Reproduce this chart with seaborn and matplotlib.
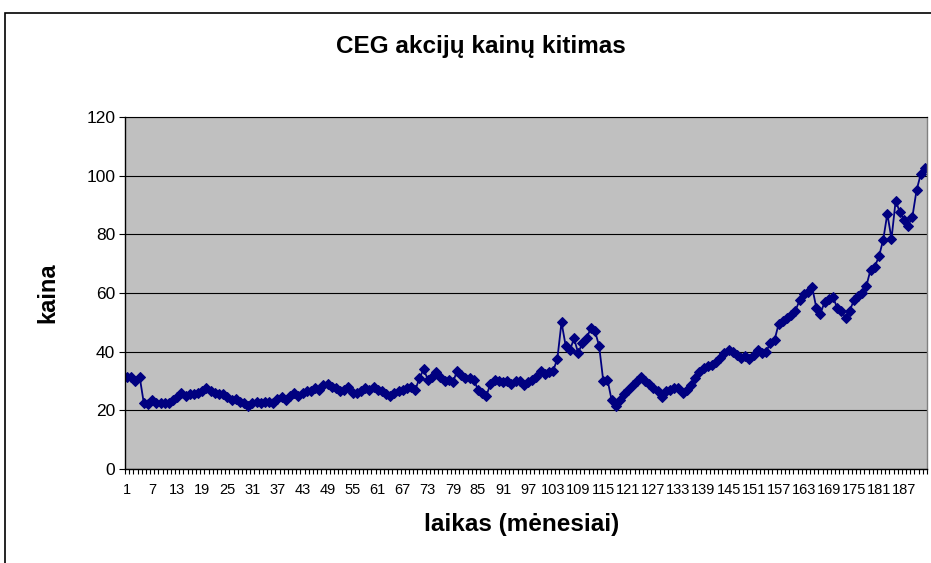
import numpy as np
import pandas as pd
import seaborn as sns
import matplotlib
matplotlib.use('Agg')
import matplotlib.pyplot as plt
from matplotlib.patches import Rectangle

# ===============================
# Dados
# ===============================
prices = [
    31.5, 31.5, 30, 31.5, 22.5, 22, 23.5, 22.5, 22.5, 22.5,      # 1-10
    22.5, 23.5, 24.5, 26, 25, 25.5, 25.5, 26, 26.5, 27.5,        # 11-20
    26.5, 26, 25.5, 25.5, 24.5, 23.5, 24, 23, 22.5, 21.5,        # 21-30
    22.5, 23, 22.5, 23, 23, 22.5, 24, 24.5, 23.5, 25,            # 31-40
    26, 25, 26, 26.5, 26.5, 27.5, 27, 28.5, 29, 28,              # 41-50
    27.5, 26.5, 27, 28, 26, 26, 26.5, 27.5, 27, 28,              # 51-60
    27, 26.5, 25.5, 25, 26, 26.5, 27, 27.5, 28, 27,              # 61-70
    31, 34, 30.5, 31.5, 33, 31.5, 30, 30.5, 29.5, 33.5,          # 71-80
    32, 31, 31, 30.5, 27, 26, 25, 29, 30.5, 30,                  # 81-90
    29.5, 30, 29, 30, 30, 28.5, 29.5, 30.5, 31.5, 33.5,          # 91-100
    32.5, 33, 33.5, 37.5, 50, 42, 40.5, 44.5, 39.5, 43,          # 101-110
    44.5, 48, 47, 42, 30, 30.5, 23.5, 21.5, 23.5, 25.5,          # 111-120
    27, 28.5, 30, 31.5, 30, 29, 27.5, 26.5, 24.5, 26.5,          # 121-130
    27, 27.5, 27.5, 26, 27, 28.5, 31, 33, 34.5, 35,              # 131-140
    35.5, 36.5, 38, 39.5, 40.5, 40, 39, 38, 38.5, 37.5,          # 141-150
    39, 40.5, 39.5, 40, 43, 44, 49.5, 50.5, 51.5, 52.5,          # 151-160
    54, 57.5, 59.5, 60.5, 62, 55, 53, 57, 58, 58.5,              # 161-170
    55, 54, 51.5, 54, 57.5, 59, 60, 62.5, 68, 69,                # 171-180
    72.5, 78, 87, 78.5, 91.5, 87.5, 85, 83, 86, 95,              # 181-190
    100.5, 102.5,                                                # 191-192
]
months = list(range(1, len(prices) + 1))
x_tick_labels = [str(m) for m in range(1, len(prices) + 1, 6)]
y_ticks = [0, 20, 40, 60, 80, 100, 120]

df = pd.DataFrame({'Menuo': months, 'Kaina': prices})

# ===============================
# Estilo
# ===============================
sns.set_style('white')
plt.rcParams['font.family'] = ['Liberation Sans', 'DejaVu Sans']
plt.rcParams['text.color'] = 'black'
plt.rcParams['xtick.color'] = 'black'
plt.rcParams['ytick.color'] = 'black'

fig = plt.figure(figsize=(9.31, 5.63), dpi=100)
ax = fig.add_axes([125 / 931, 1 - 469 / 563, (927 - 125) / 931, (469 - 117) / 563])
ax.set_facecolor('#C0C0C0')

sns.lineplot(data=df, x='Menuo', y='Kaina', ax=ax, color='#000080',
             marker='D', markersize=5.2, markeredgecolor='#000080',
             linewidth=1.3)

ax.set_xlim(0.5, len(prices) + 0.5)
ax.set_ylim(0, 120)
ax.set_yticks(y_ticks)
ax.set_yticklabels([str(v) for v in y_ticks], fontsize=12.5)
ax.set_xticks(list(range(1, len(prices) + 1, 6)))
ax.set_xticklabels(x_tick_labels, fontsize=10.5)
ax.set_xticks(np.arange(0.5, len(prices) + 1, 1), minor=True)
ax.tick_params(axis='x', which='major', length=0, pad=10)
ax.tick_params(axis='x', which='minor', length=3.5, width=0.8, direction='out', color='black', bottom=True)
ax.tick_params(axis='y', length=4, width=0.8, direction='out', color='black', left=True, pad=3)

ax.yaxis.grid(True, color='black', linewidth=0.8)
ax.set_axisbelow(True)
for side in ['left', 'bottom']:
    ax.spines[side].set_color('black')
    ax.spines[side].set_linewidth(1.0)
ax.spines['top'].set_color('black')
ax.spines['top'].set_linewidth(0.8)
ax.spines['right'].set_color('#808080')
ax.spines['right'].set_linewidth(1.0)

ax.set_xlabel('')
ax.set_ylabel('')

fig.text(481 / 931, 1 - 47 / 563, 'CEG akcijų kainų kitimas', ha='center', va='center',
         fontsize=17.5, fontweight='bold', color='black')
fig.text(48 / 931, 1 - 293 / 563, 'kaina', ha='center', va='center', rotation=90,
         fontsize=17, fontweight='bold', color='black')
fig.text(522 / 931, 1 - 525 / 563, 'laikas (mėnesiai)', ha='center', va='center',
         fontsize=17.5, fontweight='bold', color='black')

# rėmelis aplink diagramą
fig.patches.append(Rectangle((5 / 931, -0.1), 1.2, (563 - 13) / 563 + 0.1,
                             transform=fig.transFigure, fill=False,
                             edgecolor='black', linewidth=1.2))

fig.savefig('out.png', dpi=100)
